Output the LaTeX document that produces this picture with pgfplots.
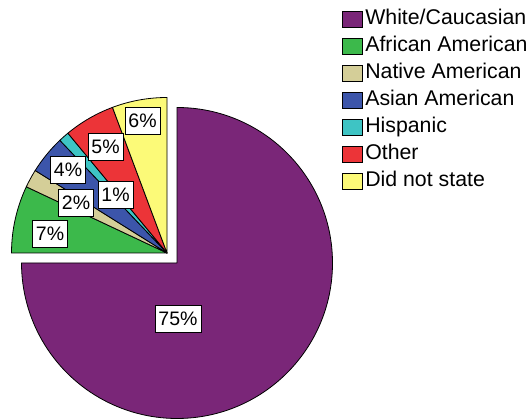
\documentclass[border=0pt]{standalone}
\usepackage{fontspec}
\setmainfont{Liberation Sans}
\usepackage{pgfplots}
\usepackage{pgfplotstable}
\pgfplotsset{compat=1.18}

\definecolor{cWhite}{RGB}{122,38,120}
\definecolor{cAfrican}{RGB}{60,185,75}
\definecolor{cNative}{RGB}{212,206,152}
\definecolor{cAsian}{RGB}{60,85,170}
\definecolor{cHispanic}{RGB}{62,196,196}
\definecolor{cOther}{RGB}{236,52,56}
\definecolor{cNotstated}{RGB}{252,250,120}

% share in percent, colour, label position (pixel grid, y up)
\pgfplotstableread[col sep=comma]{
name,value,col,lx,ly
White/Caucasian,75.0,cWhite,178,100
African American,7.0,cAfrican,50,185.5
Native American,1.9,cNative,76,216.5
Asian American,4.0,cAsian,68,249
Hispanic,1.1,cHispanic,115.5,224.5
Other,5.3,cOther,105.5,272
Did not state,5.7,cNotstated,142.5,298
}\piedata

% cumulative angles, clockwise from 12 o'clock
\def\cum{0}
\pgfplotsforeachungrouped \i in {0,...,6}{%
  \pgfplotstablegetelem{\i}{value}\of\piedata \let\val\pgfplotsretval%
  \pgfmathsetmacro\sa{90-3.6*\cum}%
  \pgfmathsetmacro\cum{\cum+\val}%
  \pgfmathsetmacro\ea{90-3.6*\cum}%
  \pgfmathtruncatemacro\pc{round(\val)}%
  \expandafter\xdef\csname sa\i\endcsname{\sa}%
  \expandafter\xdef\csname ea\i\endcsname{\ea}%
  \expandafter\xdef\csname pc\i\endcsname{\pc}%
  \pgfplotstablegetelem{\i}{col}\of\piedata%
  \expandafter\xdef\csname co\i\endcsname{\pgfplotsretval}%
  \pgfplotstablegetelem{\i}{name}\of\piedata%
  \expandafter\xdef\csname nm\i\endcsname{\pgfplotsretval}%
  \pgfplotstablegetelem{\i}{lx}\of\piedata%
  \expandafter\xdef\csname lx\i\endcsname{\pgfplotsretval}%
  \pgfplotstablegetelem{\i}{ly}\of\piedata%
  \expandafter\xdef\csname ly\i\endcsname{\pgfplotsretval}%
  \ifnum\i=0 %
    \expandafter\xdef\csname cx\i\endcsname{177}%
    \expandafter\xdef\csname cy\i\endcsname{156}%
  \else%
    \expandafter\xdef\csname cx\i\endcsname{167}%
    \expandafter\xdef\csname cy\i\endcsname{166}%
  \fi%
}

\begin{document}
\begin{tikzpicture}
\begin{axis}[
  x=1pt, y=1pt,
  xmin=0, xmax=532, ymin=0, ymax=419,
  disabledatascaling,
  hide axis,
  clip=false,
  legend style={
    draw=none, fill=none,
    at={(axis cs:342,409.5)}, anchor=north west,
    font=\fontsize{21.3}{25}\selectfont,
    inner sep=0pt, outer sep=0pt, column sep=2.5pt, row sep=7.5pt,
    nodes={inner sep=0pt, outer sep=0pt, text height=15.5pt, text depth=4pt},
    cells={anchor=west},
  },
  legend image code/.code={\draw[#1, line width=0.8pt] (0pt,-8pt) rectangle (20pt,8pt);},
]
\coordinate (bbA) at (axis cs:0,0);
\coordinate (bbB) at (axis cs:532,419);

\pgfplotsinvokeforeach{0,...,6}{
  \filldraw[fill=\csname co#1\endcsname, draw=black, line width=0.8pt, line join=round]
    (axis cs:\csname cx#1\endcsname,\csname cy#1\endcsname)
    -- ++(\csname sa#1\endcsname:155.5pt)
    arc[start angle=\csname sa#1\endcsname, end angle=\csname ea#1\endcsname, radius=155.5pt]
    -- cycle;
}
\pgfplotsinvokeforeach{0,...,6}{
  \node[draw=black, fill=white, line width=0.8pt, inner xsep=3.5pt, inner ysep=0pt,
        minimum height=27pt, font=\fontsize{19.5}{23}\selectfont]
    at (axis cs:\csname lx#1\endcsname,\csname ly#1\endcsname) {\csname pc#1\endcsname\%};
}

\pgfplotsinvokeforeach{0,...,6}{
  \addlegendimage{fill=\csname co#1\endcsname, draw=black}
  \addlegendentryexpanded{\csname nm#1\endcsname}
}
\end{axis}
\pgfresetboundingbox
\path (bbA) rectangle (bbB);
\end{tikzpicture}
\end{document}
